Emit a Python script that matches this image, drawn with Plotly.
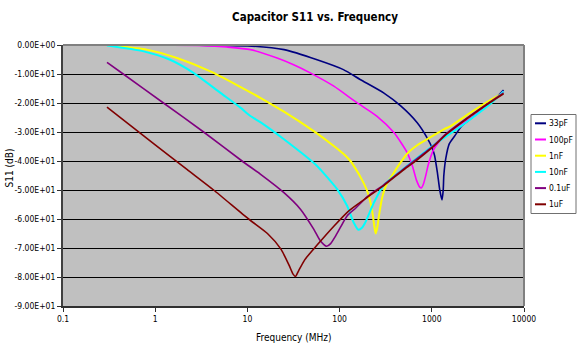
import plotly.graph_objects as go

# ---- data (frequency in MHz, S11 in dB) ----
names = ["33pF", "100pF", "1nF", "10nF", "0.1uF", "1uF"]
colors = ["#000080", "#FF00FF", "#FFFF00", "#00FFFF", "#800080", "#800000"]

f_33p = [0.3, 1, 3, 10, 25, 57, 110, 167, 300, 460, 695, 890, 1010, 1070, 1150, 1220, 1290,
         1330, 1350, 1420, 1550, 1770, 2100, 3000, 4500, 6000]
s_33p = [0, 0, -0.1, -0.3, -1.6, -5.1, -8.5, -11.9, -16.5, -21.0, -26.8, -32.0, -35.5, -38, -44,
         -50, -53.4, -50, -45, -39, -34, -31.4, -28.0, -24.0, -19.5, -15.5]

f_100p = [0.3, 1, 3.35, 6, 10.8, 21, 31.7, 48, 86.6, 154, 253, 388, 540, 620, 680, 740, 770,
          810, 860, 920, 1050, 1350, 2000, 3000, 4500, 6000]
s_100p = [0, 0, -0.2, -0.7, -1.6, -4.5, -6.8, -9.6, -14.2, -19.9, -24.5, -30.2, -37.1, -42,
          -46.5, -49, -49.3, -48, -45, -41, -36, -31.4, -27.8, -24.0, -19.5, -16.0]

f_1n = [0.3, 0.81, 1.72, 3.96, 7.7, 13.8, 24.9, 52.4, 86.6, 110, 131, 150, 175, 200, 224, 238,
        246, 256, 267, 290, 330, 358, 420, 540, 700, 890, 1350, 1600, 2440, 4400, 6000]
s_1n = [0, -1.6, -4.5, -9.1, -13.8, -18.2, -23.0, -29.7, -34.8, -37.5, -40, -42.8, -46.5, -50.5,
        -56.6, -62.5, -65, -63, -59, -52.5, -47.4, -45.8, -42.3, -37.5, -34.5, -32.5, -29.1,
        -28, -24, -18.8, -16.5]

f_10n = [0.3, 0.75, 1.45, 2.6, 5.1, 8.4, 10.8, 13.8, 24.9, 57, 76.6, 94, 121, 142, 160, 175,
         190, 236, 301, 400, 600, 1000, 2000, 3000, 4500, 6000]
s_10n = [-0.2, -2.2, -5.1, -9.6, -16.5, -21.6, -24.5, -26.6, -32.5, -41.7, -46.3, -49.7, -55.5,
         -61.2, -63.7, -63, -61.2, -54.3, -48.3, -45.0, -40.5, -35.0, -28.3, -24.2, -19.8, -16.0]

f_100n = [0.3, 0.45, 1.23, 3.35, 8.75, 13.8, 24.9, 37.6, 52.4, 61.7, 72.3, 80, 90, 102, 121,
          150, 200, 301, 520, 1000, 1480, 2500, 4200, 6000]
s_100n = [-6.0, -10, -20, -30, -40, -44.5, -50.9, -56.6, -63.5, -67.5, -69.4, -68.5, -66, -62.9,
          -58.9, -56.2, -52.3, -48.2, -42.2, -35.2, -30.2, -24.8, -19.8, -16.5]

f_1u = [0.3, 1, 2.21, 4.3, 10.3, 16.5, 23, 28.2, 31.3, 33.2, 36, 42, 57, 86.6, 126, 200, 301,
        520, 700, 1000, 1480, 2500, 4200, 6000]
s_1u = [-21.4, -34.4, -42.9, -50, -60, -65.0, -70.3, -75.8, -79.0, -79.8, -77.8, -74, -69, -62.5,
        -57.2, -52.5, -48.5, -42.5, -39.5, -35.5, -30.5, -25, -20, -16.8]

freqs = [f_33p, f_100p, f_1n, f_10n, f_100n, f_1u]
s11s = [s_33p, s_100p, s_1n, s_10n, s_100n, s_1u]
widths = [1.6, 1.6, 2.0, 2.0, 1.6, 1.6]

y_ticks = [0, -10, -20, -30, -40, -50, -60, -70, -80, -90]
x_ticks = [0.1, 1, 10, 100, 1000, 10000]
x_ticktext = ["0.1", "1", "10", "100", "1000", "10000"]

FONT = "DejaVu Sans Condensed, DejaVu Sans"
W, H = 580, 349
L, R, T, B = 63, 56, 45, 43
PW, PH = W - L - R, H - T - B


def px_x(px):  # pixel -> paper x
    return (px - L) / PW


def px_y(py):  # pixel -> paper y
    return (H - B - py) / PH


fig = go.Figure()
for n, c, fx, sy, w in zip(names, colors, freqs, s11s, widths):
    fig.add_trace(go.Scatter(x=fx, y=sy, mode="lines", name=n, showlegend=False,
                             line=dict(color=c, width=w, shape="spline", smoothing=0.6)))

shapes = [
    dict(type="line", xref="paper", yref="paper", x0=0, x1=1, y0=1, y1=1,
         line=dict(color="#808080", width=2)),
    dict(type="line", xref="paper", yref="paper", x0=1, x1=1, y0=0, y1=1,
         line=dict(color="#808080", width=2)),
    # legend box
    dict(type="rect", xref="paper", yref="paper", x0=px_x(531), x1=px_x(576),
         y0=px_y(213.5), y1=px_y(114.5), fillcolor="white", line=dict(color="#707070", width=1)),
]
annotations = [
    dict(text="Frequency (MHz)", x=0.5, y=px_y(337), xref="paper", yref="paper",
         xanchor="center", yanchor="middle", showarrow=False, font=dict(family=FONT, size=10)),
    dict(text="S11 (dB)", x=px_x(8.5), y=px_y(168), xref="paper", yref="paper",
         xanchor="center", yanchor="middle", textangle=-90, showarrow=False,
         font=dict(family=FONT, size=10)),
]
# legend entries
for i, (n, c, w) in enumerate(zip(names, colors, widths)):
    yy = px_y(123.3 + 16.2 * i)
    shapes.append(dict(type="line", xref="paper", yref="paper", x0=px_x(535), x1=px_x(546),
                       y0=yy, y1=yy, line=dict(color=c, width=2)))
    annotations.append(dict(text=n, x=px_x(547), y=yy, xref="paper", yref="paper",
                            xanchor="left", yanchor="middle", showarrow=False,
                            font=dict(family=FONT, size=8.5)))

fig.update_layout(
    width=W, height=H,
    margin=dict(l=L, r=R, t=T, b=B),
    paper_bgcolor="white",
    plot_bgcolor="#C0C0C0",
    font=dict(family=FONT, size=8.5, color="black"),
    title=dict(text="<b>Capacitor S11 vs. Frequency</b>", x=315 / W, xanchor="center",
               y=1 - 17 / H, yanchor="middle", font=dict(family=FONT, size=11.5, color="black")),
    showlegend=False,
    xaxis=dict(type="log", range=[-1, 4], tickmode="array", tickvals=x_ticks,
               ticktext=x_ticktext, ticks="outside", ticklen=4, tickcolor="#303030",
               showgrid=False, zeroline=False, showline=True, linecolor="#303030",
               linewidth=1.5, tickfont=dict(family=FONT, size=8.5)),
    yaxis=dict(range=[-90, 0], tickmode="array", tickvals=y_ticks,
               ticktext=[f"{v:.2E}" for v in y_ticks], ticks="outside", ticklen=4,
               tickcolor="#303030", showgrid=True, gridcolor="black", gridwidth=1,
               zeroline=False, showline=True, linecolor="#404040", linewidth=2,
               tickfont=dict(family=FONT, size=8.5)),
    annotations=annotations,
    shapes=shapes,
)

fig.write_html("out.html")
